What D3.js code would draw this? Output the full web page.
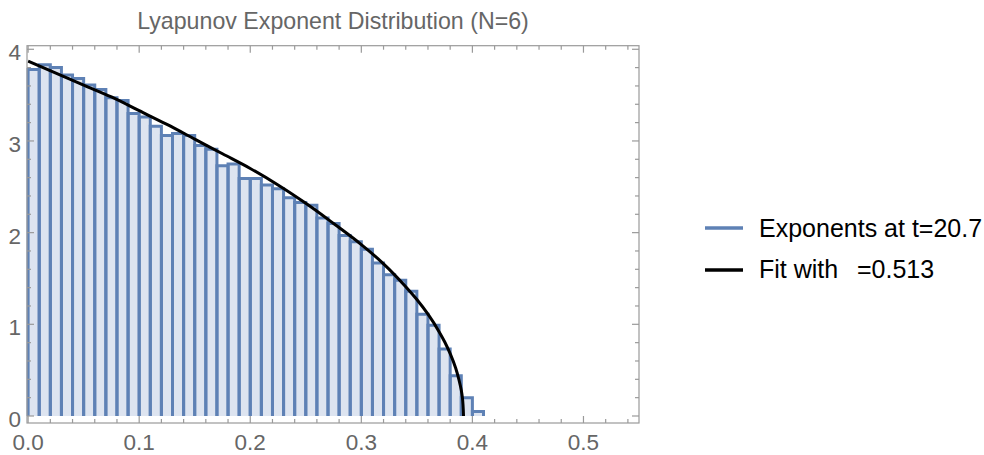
<!DOCTYPE html>
<html><head><meta charset="utf-8">
<script src="https://cdn.jsdelivr.net/npm/d3@7"></script>
<style>body{margin:0;background:#fff}svg{display:block}text{font-family:"Liberation Sans",Arial,sans-serif}</style>
</head><body>
<script>
const title = "Lyapunov Exponent Distribution (N=6)";
const binWidth = 0.01;
const binStarts = d3.range(41).map(i => i * 0.01);
const heights = [3.78,3.83,3.80,3.72,3.68,3.61,3.56,3.47,3.44,3.30,
  3.26,3.16,3.06,3.08,3.06,2.95,2.91,2.73,2.75,2.59,
  2.59,2.52,2.48,2.38,2.33,2.30,2.16,2.10,1.97,1.90,
  1.82,1.67,1.54,1.48,1.36,1.11,0.99,0.73,0.44,0.20,0.05];
const fitX = [0,0.025,0.05,0.075,0.1,0.125,0.15,0.175,0.2,0.225,0.25,0.275,0.3,0.32,0.34,0.35,0.36,0.37,0.375,0.38,0.385,0.388,0.39,0.391,0.392];
const fitY = [3.87,3.74,3.61,3.48,3.33,3.18,3.02,2.86,2.70,2.52,2.32,2.10,1.87,1.66,1.41,1.27,1.11,0.92,0.81,0.68,0.52,0.39,0.28,0.20,0];
const xTicks = [0,0.1,0.2,0.3,0.4,0.5];
const xTickLabels = ["0.0","0.1","0.2","0.3","0.4","0.5"];
const yTicks = [0,1,2,3,4];
const legendLabels = ["Exponents at t=20.7","Fit with", "=0.513"];

const W = 984, H = 455;
const svg = d3.select("body").append("svg").attr("width", W).attr("height", H);
const x = d3.scaleLinear().domain([-0.001, 0.55]).range([27, 639]);
const y = d3.scaleLinear().domain([-0.0764, 4.039]).range([423, 45.7]);
const blue = "#5e81b5";
const gray = "#9a9a9a";
const textGray = "#666";

// bars: fill, then outline without bottom edge
const bars = svg.append("g");
bars.selectAll("rect").data(binStarts).join("rect")
  .attr("x", (d) => x(d))
  .attr("width", (d) => x(d + binWidth) - x(d))
  .attr("y", (d, i) => y(heights[i]))
  .attr("height", (d, i) => y(0) - y(heights[i]))
  .attr("fill", "#dde4f0");
bars.selectAll("path").data(binStarts).join("path")
  .attr("d", (d, i) => {
    const p = d3.path();
    p.moveTo(x(d), y(0));
    p.lineTo(x(d), y(heights[i]));
    p.lineTo(x(d + binWidth), y(heights[i]));
    p.lineTo(x(d + binWidth), y(0));
    return p.toString();
  })
  .attr("fill", "none")
  .attr("stroke", blue)
  .attr("stroke-width", 3)
  .attr("stroke-linejoin", "miter");

// fit curve
const fitPts = fitX.map((v, i) => [v, fitY[i]]);
svg.append("path").datum(fitPts)
  .attr("d", d3.line().x(d => x(d[0])).y(d => y(d[1])).curve(d3.curveMonotoneY))
  .attr("fill", "none").attr("stroke", "#000").attr("stroke-width", 3);

// frame & ticks
const x0 = x.range()[0], x1 = x.range()[1], y0 = y.range()[0], y1 = y.range()[1];
svg.append("rect").attr("x", x0).attr("y", y1).attr("width", x1 - x0).attr("height", y0 - y1)
  .attr("fill", "none").attr("stroke", gray).attr("stroke-width", 1.2);

const xMinor = d3.range(0, 0.551, 0.02).map(v => +v.toFixed(3)).filter(v => !xTicks.some(t => Math.abs(t - v) < 1e-6));
const yMinor = d3.range(0, 4.01, 0.2).map(v => +v.toFixed(3)).filter(v => !yTicks.some(t => Math.abs(t - v) < 1e-6));
const tg = svg.append("g").attr("stroke", gray).attr("stroke-width", 1.2);
function xt(vals, len) {
  vals.forEach(v => {
    tg.append("line").attr("x1", x(v)).attr("x2", x(v)).attr("y1", y0).attr("y2", y0 - len);
    tg.append("line").attr("x1", x(v)).attr("x2", x(v)).attr("y1", y1).attr("y2", y1 + len);
  });
}
function yt(vals, len) {
  vals.forEach(v => {
    tg.append("line").attr("y1", y(v)).attr("y2", y(v)).attr("x1", x0).attr("x2", x0 + len);
    tg.append("line").attr("y1", y(v)).attr("y2", y(v)).attr("x1", x1).attr("x2", x1 - len);
  });
}
xt(xTicks, 7); xt(xMinor, 4); yt(yTicks, 7); yt(yMinor, 4);

svg.append("g").selectAll("text").data(xTicks).join("text")
  .attr("x", d => x(d)).attr("y", y0 + 27).attr("text-anchor", "middle")
  .attr("font-size", 22.5).attr("fill", textGray).text((d, i) => xTickLabels[i]);
svg.append("g").selectAll("text").data(yTicks).join("text")
  .attr("x", 21).attr("y", d => y(d) + 11).attr("text-anchor", "end")
  .attr("font-size", 22.5).attr("fill", textGray).text(d => d);

svg.append("text").attr("x", (x0 + x1) / 2).attr("y", 29).attr("text-anchor", "middle")
  .attr("font-size", 23.2).attr("fill", textGray).text(title);

// legend
const lg = svg.append("g");
lg.append("line").attr("x1", 705).attr("x2", 743).attr("y1", 228).attr("y2", 228).attr("stroke", blue).attr("stroke-width", 3.3);
lg.append("line").attr("x1", 705).attr("x2", 743).attr("y1", 270).attr("y2", 270).attr("stroke", "#000").attr("stroke-width", 3.3);
lg.append("text").attr("x", 759).attr("y", 237).attr("font-size", 25).attr("fill", "#000").text(legendLabels[0]);
lg.append("text").attr("x", 759).attr("y", 278).attr("font-size", 25).attr("fill", "#000").text(legendLabels[1]);
lg.append("text").attr("x", 857).attr("y", 278).attr("font-size", 25).attr("fill", "#000").text(legendLabels[2]);
</script>
</body></html>
